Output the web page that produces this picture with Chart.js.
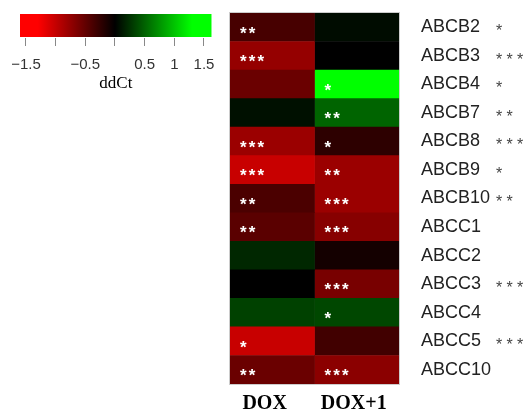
<!DOCTYPE html>
<html>
<head>
<meta charset="utf-8">
<script src="https://cdn.jsdelivr.net/npm/chart.js@4/dist/chart.umd.min.js"></script>
<style>
  html, body { margin: 0; padding: 0; background: #fff; }
  #wrap { position: relative; width: 524px; height: 410px; overflow: hidden; }
  #heat { position: absolute; left: 0; top: 0; }
  #key { position: absolute; left: 0; top: 0; }
</style>
</head>
<body>
<div id="wrap">
  <canvas id="heat" width="524" height="410"></canvas>
  <canvas id="key" width="230" height="100"></canvas>
</div>
<script>
// ABC transporter expression (ddCt) per treatment
const genes = ['ABCB2', 'ABCB3', 'ABCB4', 'ABCB7', 'ABCB8', 'ABCB9', 'ABCB10',
               'ABCC1', 'ABCC2', 'ABCC3', 'ABCC4', 'ABCC5', 'ABCC10'];
const groups = ['DOX', 'DOX+1'];
const doxValues  = [-0.36, -0.76, -0.54, 0.08, -0.79, -1.02, -0.38, -0.46, 0.20, 0.00, 0.33, -1.02, -0.54];
const dox1Values = [0.06, 0.00, 1.45, 0.51, -0.23, -0.79, -0.79, -0.69, -0.10, -0.61, 0.36, -0.33, -0.71];
// significance marks inside cells and beside gene names
const doxStars  = ['**', '***', '', '', '***', '***', '**', '**', '', '', '', '*', '**'];
const dox1Stars = ['', '', '*', '**', '*', '**', '***', '***', '', '***', '*', '', '***'];
const geneStars = ['*', '***', '*', '**', '***', '*', '**', '', '', '***', '', '***', ''];
// colour key
const keyTicks = [-1.5, -1, -0.5, 0, 0.5, 1, 1.5];
const keyTickLabels = ['\u22121.5', '', '\u22120.5', '', '0.5', '1', '1.5'];
const keyTitle = 'ddCt';

const SAT = 1.3; // |ddCt| at which the red / green ramp saturates

function heatColor(v) {
  const t = Math.min(Math.abs(v) / SAT, 1);
  const c = Math.round(255 * t);
  return v < 0 ? `rgb(${c},0,0)` : `rgb(0,${c},0)`;
}

const SANS = '"Liberation Sans", Arial, sans-serif';
const SERIF = '"Liberation Serif", "Times New Roman", serif';

// draws the significance asterisks, a faint frame and the column captions
const marksPlugin = {
  id: 'marks',
  afterDatasetsDraw(chart) {
    const ctx = chart.ctx;
    const area = chart.chartArea;
    const starSets = [doxStars, dox1Stars];
    ctx.save();
    // cell stars
    ctx.fillStyle = '#ffffff';
    ctx.font = 'bold 17px ' + SANS;
    ctx.textAlign = 'center';
    ctx.textBaseline = 'alphabetic';
    starSets.forEach((stars, d) => {
      const meta = chart.getDatasetMeta(d);
      meta.data.forEach((bar, i) => {
        const n = stars[i].length;
        const left = Math.min(bar.base, bar.x);
        for (let k = 0; k < n; k++) {
          ctx.fillText('*', left + 13.3 + 8.7 * k, bar.y + 1.5 + 0.58 * 17);
        }
      });
    });
    // stars beside gene names
    const ys = chart.scales.y;
    ctx.fillStyle = '#444444';
    ctx.font = '16px ' + SANS;
    geneStars.forEach((s, i) => {
      const y = ys.getPixelForValue(i);
      for (let k = 0; k < s.length; k++) {
        ctx.fillText('*', area.right + 100 + 10.5 * k, y - 0.5 + 0.58 * 16);
      }
    });
    // faint frame around the heatmap
    ctx.strokeStyle = 'rgba(170,170,170,0.6)';
    ctx.lineWidth = 1;
    ctx.strokeRect(area.left - 0.5, area.top - 0.5, area.right - area.left + 1, area.bottom - area.top + 1);
    // column captions
    const xs = chart.scales.x;
    ctx.fillStyle = '#000';
    ctx.font = 'bold 20px ' + SERIF;
    ctx.textAlign = 'center';
    ctx.fillText(groups[0], xs.getPixelForValue(0.41), 409);
    ctx.fillText(groups[1], xs.getPixelForValue(1.465), 409);
    ctx.restore();
  }
};

new Chart(document.getElementById('heat'), {
  type: 'bar',
  data: {
    labels: genes,
    datasets: [
      { label: groups[0], data: genes.map(() => 1), backgroundColor: doxValues.map(heatColor) },
      { label: groups[1], data: genes.map(() => 1), backgroundColor: dox1Values.map(heatColor) }
    ]
  },
  options: {
    indexAxis: 'y',
    responsive: false,
    animation: false,
    devicePixelRatio: 1,
    layout: { padding: { left: 230, right: 0, top: 13, bottom: 26 } },
    datasets: { bar: { barPercentage: 1, categoryPercentage: 1, borderWidth: 0 } },
    plugins: { legend: { display: false }, tooltip: { enabled: false }, title: { display: false } },
    scales: {
      x: { stacked: true, min: 0, max: 2, display: false },
      y: {
        stacked: true,
        position: 'right',
        grid: { display: false, drawTicks: false },
        border: { display: false },
        ticks: { padding: 22, crossAlign: 'near', color: '#222', font: { family: SANS, size: 18 } },
        afterFit(s) { s.width = 125; s.paddingTop = 0; s.paddingBottom = 0; }
      }
    }
  },
  plugins: [marksPlugin]
});

// colour key: a single floating bar filled with the red-black-green ramp
new Chart(document.getElementById('key'), {
  type: 'bar',
  data: {
    labels: [''],
    datasets: [{
      data: [[-1.601, 1.63]],
      borderWidth: 0,
      barPercentage: 0.92,
      categoryPercentage: 1,
      backgroundColor(c) {
        const chart = c.chart;
        if (!chart.chartArea) return '#000';
        const xs = chart.scales.x;
        const g = chart.ctx.createLinearGradient(xs.getPixelForValue(-SAT), 0, xs.getPixelForValue(SAT), 0);
        g.addColorStop(0, 'rgb(255,0,0)');
        g.addColorStop(0.5, 'rgb(0,0,0)');
        g.addColorStop(1, 'rgb(0,255,0)');
        return g;
      }
    }]
  },
  options: {
    indexAxis: 'y',
    responsive: false,
    animation: false,
    devicePixelRatio: 1,
    layout: { padding: { left: 20, right: 18.3, top: 13, bottom: 0 } },
    plugins: { legend: { display: false }, tooltip: { enabled: false } },
    scales: {
      y: { display: false },
      x: {
        type: 'linear',
        min: -1.601,
        max: 1.63,
        afterBuildTicks(s) { s.ticks = keyTicks.map(v => ({ value: v })); },
        grid: { drawOnChartArea: false, drawTicks: true, tickLength: 8, tickColor: '#888', tickWidth: 1 },
        border: { display: false },
        ticks: {
          autoSkip: false, maxRotation: 0, padding: 10, color: '#333',
          font: { family: SANS, size: 15 },
          callback(v, i) { return keyTickLabels[i]; }
        },
        title: { display: true, text: keyTitle, color: '#000', font: { family: SERIF, size: 17 }, padding: { top: 0, bottom: 6 } },
        afterFit(s) { s.height = 62; }
      }
    }
  }
});
</script>
</body>
</html>
